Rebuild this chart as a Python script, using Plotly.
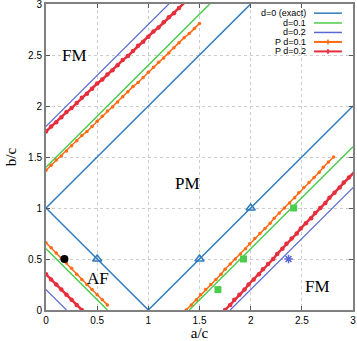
import plotly.graph_objects as go

# d=0 exact boundaries (segments split by None)
exact_a = [0, 2, None, 0, 1, 3]
exact_b = [1, 3, None, 1, 0, 2]

# d=0.1 boundaries
d01_a = [0, 1.6, None, 0, 0.6, None, 1.4, 3]
d01_b = [1.4, 3, None, 0.6, 0, None, 0, 1.6]

# d=0.2 boundaries
d02_a = [0, 1.2, None, 0, 0.2, None, 1.8, 3]
d02_b = [1.8, 3, None, 0.2, 0, None, 0, 1.2]

# P d=0.1
p01_up_a = [0.0, 0.05, 0.1, 0.15, 0.2, 0.25, 0.3, 0.35, 0.4, 0.45, 0.5, 0.55, 0.6, 0.65, 0.7, 0.75,
            0.8, 0.85, 0.9, 0.95, 1.0, 1.05, 1.1, 1.15, 1.2, 1.25, 1.3, 1.35, 1.4, 1.45, 1.5]
p01_up_b = [1.37, 1.42, 1.47, 1.51, 1.56, 1.61, 1.66, 1.71, 1.75, 1.80, 1.85, 1.90, 1.95, 1.99, 2.04,
            2.09, 2.14, 2.19, 2.23, 2.28, 2.33, 2.38, 2.43, 2.47, 2.52, 2.57, 2.62, 2.67, 2.71, 2.76, 2.81]
p01_lo_a = [0.0, 0.05, 0.1, 0.15, 0.2, 0.25, 0.3, 0.35, 0.4, 0.45, 0.5, 0.55, 0.6]
p01_lo_b = [0.66, 0.61, 0.56, 0.51, 0.46, 0.41, 0.35, 0.30, 0.25, 0.20, 0.15, 0.10, 0.05]
p01_rt_a = [1.37, 1.42, 1.47, 1.51, 1.56, 1.61, 1.66, 1.71, 1.75, 1.80, 1.85, 1.90, 1.95, 1.99, 2.04,
            2.09, 2.14, 2.19, 2.23, 2.28, 2.33, 2.38, 2.43, 2.47, 2.52, 2.57, 2.62, 2.67, 2.71, 2.76, 2.81]
p01_rt_b = [0.0, 0.05, 0.1, 0.15, 0.2, 0.25, 0.3, 0.35, 0.4, 0.45, 0.5, 0.55, 0.6, 0.65, 0.7, 0.75,
            0.8, 0.85, 0.9, 0.95, 1.0, 1.05, 1.1, 1.15, 1.2, 1.25, 1.3, 1.35, 1.4, 1.45, 1.5]

# P d=0.2
p02_up_a = [0.0, 0.05, 0.1, 0.15, 0.2, 0.25, 0.3, 0.35, 0.4, 0.45, 0.5, 0.55, 0.6, 0.65, 0.7, 0.75,
            0.8, 0.85, 0.9, 0.95, 1.0, 1.05, 1.1, 1.15, 1.2, 1.25, 1.3, 1.35, 1.4]
p02_up_b = [1.75, 1.80, 1.84, 1.89, 1.94, 1.98, 2.03, 2.08, 2.12, 2.17, 2.22, 2.26, 2.31, 2.35, 2.40,
            2.45, 2.49, 2.54, 2.59, 2.63, 2.68, 2.73, 2.77, 2.82, 2.87, 2.91, 2.96, 3.01, 3.05]
p02_lo_a = [0.0, 0.05, 0.1, 0.15, 0.2, 0.25, 0.3, 0.35]
p02_lo_b = [0.35, 0.30, 0.25, 0.20, 0.15, 0.10, 0.05, 0.0]
p02_rt_a = [1.75, 1.80, 1.84, 1.89, 1.94, 1.98, 2.03, 2.08, 2.12, 2.17, 2.22, 2.26, 2.31, 2.35, 2.40,
            2.45, 2.49, 2.54, 2.59, 2.63, 2.68, 2.73, 2.77, 2.82, 2.87, 2.91, 2.96, 3.01, 3.05]
p02_rt_b = [0.0, 0.05, 0.1, 0.15, 0.2, 0.25, 0.3, 0.35, 0.4, 0.45, 0.5, 0.55, 0.6, 0.65, 0.7, 0.75,
            0.8, 0.85, 0.9, 0.95, 1.0, 1.05, 1.1, 1.15, 1.2, 1.25, 1.3, 1.35, 1.4]

# single data points
tri_a = [0.5, 1.5, 2.0]
tri_b = [0.5, 0.5, 1.0]
sq_a = [1.68, 1.93, 2.42]
sq_b = [0.2, 0.5, 1.0]
dot_a = [0.18]
dot_b = [0.5]
star_a = [2.37]
star_b = [0.5]

phase_labels = ["FM", "PM", "AF", "FM"]
phase_a = [0.28, 1.38, 0.51, 2.65]
phase_b = [2.5, 1.24, 0.31, 0.23]

legend_names = ["d=0 (exact)", "d=0.1", "d=0.2", "P d=0.1", "P d=0.2"]

c_exact = "#2f7bbf"
c_d01 = "#4ccc4c"
c_d02 = "#5a68d6"
c_p01 = "#ff6a14"
c_p02 = "#e62e3c"
legend_colors = [c_exact, c_d01, c_d02, c_p01, c_p02]

fig = go.Figure()

fig.add_trace(go.Scatter(x=exact_a, y=exact_b, mode="lines", line=dict(color=c_exact, width=1.5)))
fig.add_trace(go.Scatter(x=d01_a, y=d01_b, mode="lines", line=dict(color=c_d01, width=1.5)))
fig.add_trace(go.Scatter(x=d02_a, y=d02_b, mode="lines", line=dict(color=c_d02, width=1.2)))

for xa, yb in [(p01_up_a, p01_up_b), (p01_lo_a, p01_lo_b), (p01_rt_a, p01_rt_b)]:
    fig.add_trace(go.Scatter(x=xa, y=yb, mode="lines+markers",
                             line=dict(color=c_p01, width=1.5),
                             marker=dict(color=c_p01, size=3.5)))
for xa, yb in [(p02_up_a, p02_up_b), (p02_lo_a, p02_lo_b), (p02_rt_a, p02_rt_b)]:
    fig.add_trace(go.Scatter(x=xa, y=yb, mode="lines+markers",
                             line=dict(color=c_p02, width=2.5),
                             marker=dict(color=c_p02, size=4.5)))

fig.add_trace(go.Scatter(x=tri_a, y=tri_b, mode="markers",
                         marker=dict(symbol="triangle-up-open", color=c_exact, size=8,
                                     line=dict(width=1.5)), cliponaxis=False))
fig.add_trace(go.Scatter(x=sq_a, y=sq_b, mode="markers",
                         marker=dict(symbol="square", color=c_d01, size=7)))
fig.add_trace(go.Scatter(x=dot_a, y=dot_b, mode="markers",
                         marker=dict(symbol="circle", color="black", size=8)))
fig.add_trace(go.Scatter(x=star_a, y=star_b, mode="markers",
                         marker=dict(symbol="asterisk-open", color=c_d02, size=7,
                                     line=dict(width=1.5, color=c_d02))))

for txt, xa, yb in zip(phase_labels, phase_a, phase_b):
    fig.add_annotation(x=xa, y=yb, text=txt, showarrow=False,
                       font=dict(family="Liberation Serif", size=17, color="black"))

# gnuplot-style key: text right-aligned, sample line to its right
key_y = [0.970, 0.938, 0.907, 0.876, 0.845]
for i, (name, col) in enumerate(zip(legend_names, legend_colors)):
    fig.add_annotation(xref="paper", yref="paper", x=0.853, y=key_y[i], text=name,
                       xanchor="right", yanchor="middle", showarrow=False,
                       font=dict(family="Liberation Sans", size=9, color="black"))
    fig.add_shape(type="line", xref="paper", yref="paper", x0=0.873, x1=0.964,
                  y0=key_y[i], y1=key_y[i], line=dict(color=col, width=1.5 if i < 3 else 2))
    if i >= 3:
        fig.add_shape(type="line", xref="paper", yref="paper", x0=0.9185, x1=0.9185,
                      y0=key_y[i] - 0.008, y1=key_y[i] + 0.008, line=dict(color=col, width=1.5))

axis_common = dict(range=[0, 3], dtick=0.5, showgrid=True, gridcolor="#cccccc",
                   griddash="dot", gridwidth=1, zeroline=False, showline=True,
                   linecolor="#808080", linewidth=2, mirror="ticks", ticks="inside",
                   ticklen=4, tickcolor="#555555", automargin=False,
                   ticklabeloverflow="allow",
                   tickfont=dict(family="Liberation Sans", size=10, color="black"))

fig.update_xaxes(**axis_common, title=dict(text="a/c", standoff=0,
                 font=dict(family="Liberation Serif", size=15, color="black")))
fig.update_yaxes(**axis_common, title=dict(text="b/c", standoff=8,
                 font=dict(family="Liberation Serif", size=15, color="black")))

fig.update_layout(width=357, height=341, showlegend=False,
                  margin=dict(l=46, r=4, t=4, b=31),
                  plot_bgcolor="white", paper_bgcolor="white")

fig.write_html("out.html", config={"displayModeBar": False},
               post_script="document.body.style.margin='0';")
